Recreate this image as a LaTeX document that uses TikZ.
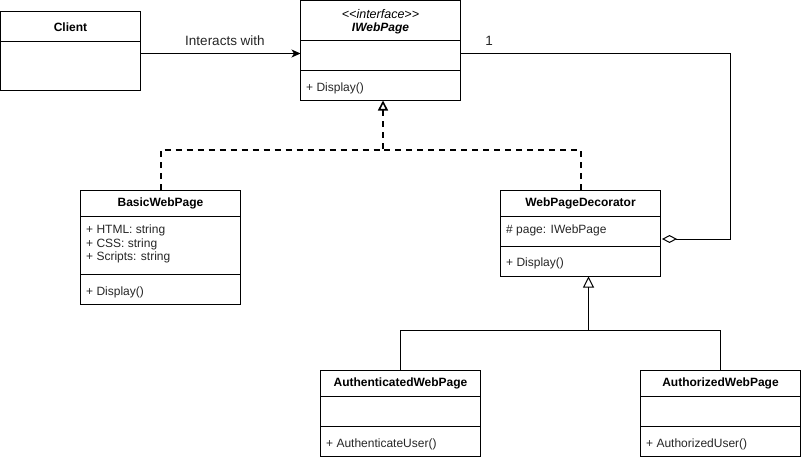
\documentclass[tikz,border=0pt]{standalone}
\usepackage{fontspec}
\setmainfont{Liberation Sans}
\usetikzlibrary{arrows.meta,calc}
\begin{document}
\begin{tikzpicture}[x=1pt,y=-1pt,
  box/.style={draw, line width=1pt, inner sep=0pt, outer sep=0pt, anchor=north west, minimum width=160pt},
  cname/.style={font=\fontsize{12}{14}\selectfont\bfseries, inner sep=0pt, anchor=center},
  member/.style={font=\fontsize{12}{14}\selectfont, inner sep=0pt, anchor=west, text=black!85},
  divider/.style={line width=1pt},
  lbl/.style={font=\fontsize{13.5}{16}\selectfont, inner sep=0pt, text=black!85},
  realize/.style={line width=2pt, dash pattern=on 6pt off 5pt, -{Triangle[open, length=10pt, width=10pt, line width=1.6pt]}},
  general/.style={line width=1pt},
  assoc/.style={line width=1pt, -{Stealth[length=9pt, width=8pt, inset=2.5pt]}},
  aggr/.style={line width=1pt, -{Diamond[open, length=15pt, width=8pt]}}
]
\useasboundingbox (0,0) rectangle (801,460);

% Client
\node[box, minimum width=140pt, minimum height=79pt] (client) at (0.5,12) {};
\draw[divider] ($(client.north west)+(0,29.5)$) -- ++(140,0);
\node[cname] (clientname) at ($(client.north)+(0,15)$) {Client};

% IWebPage
\node[box, minimum height=99.5pt] (iweb) at (300.5,1) {};
\draw[divider] ($(iweb.north west)+(0,39.5)$) -- ++(160,0);
\draw[divider] ($(iweb.north west)+(0,69.5)$) -- ++(160,0);
\node[font=\fontsize{12.5}{14}\selectfont\itshape, inner sep=0pt] (istereo) at ($(iweb.north)+(0,13)$) {<{}<interface>{}>};
\node[font=\fontsize{12}{14}\selectfont\bfseries\itshape, inner sep=0pt] (iname) at ($(iweb.north)+(0,27)$) {IWebPage};
\node[member] (imeth) at ($(iweb.north west)+(5.5,87)$) {+ Display()};

% BasicWebPage
\node[box, minimum height=114pt] (basic) at (80.5,190) {};
\draw[divider] ($(basic.north west)+(0,26)$) -- ++(160,0);
\draw[divider] ($(basic.north west)+(0,84)$) -- ++(160,0);
\node[cname] (basicname) at ($(basic.north)+(0,13)$) {BasicWebPage};
\node[member] (b1) at ($(basic.north west)+(5.5,40)$) {+ HTML: string};
\node[member] (b2) at ($(basic.north west)+(5.5,54)$) {+ CSS: string};
\node[member] (b3) at ($(basic.north west)+(5.5,67.5)$) {+ Scripts: string};
\node[member] (b4) at ($(basic.north west)+(5.5,102)$) {+ Display()};

% WebPageDecorator
\node[box, minimum height=86.5pt] (deco) at (500.5,190) {};
\draw[divider] ($(deco.north west)+(0,26.5)$) -- ++(160,0);
\draw[divider] ($(deco.north west)+(0,56)$) -- ++(160,0);
\node[cname] (deconame) at ($(deco.north)+(0,13)$) {WebPageDecorator};
\node[member] (d1) at ($(deco.north west)+(5.5,40)$) {\# page: IWebPage};
\node[member] (d2) at ($(deco.north west)+(5.5,73.5)$) {+ Display()};

% AuthenticatedWebPage
\node[box, minimum height=86pt] (auth) at (320.5,370) {};
\draw[divider] ($(auth.north west)+(0,26)$) -- ++(160,0);
\draw[divider] ($(auth.north west)+(0,56)$) -- ++(160,0);
\node[cname] (authname) at ($(auth.north)+(0,13.5)$) {AuthenticatedWebPage};
\node[member] (a1) at ($(auth.north west)+(5.5,74)$) {+ AuthenticateUser()};

% AuthorizedWebPage
\node[box, minimum height=86pt] (authz) at (640.5,370) {};
\draw[divider] ($(authz.north west)+(0,26)$) -- ++(160,0);
\draw[divider] ($(authz.north west)+(0,56)$) -- ++(160,0);
\node[cname] (authzname) at ($(authz.north)+(0,13.5)$) {AuthorizedWebPage};
\node[member] (z1) at ($(authz.north west)+(5.5,74)$) {+ AuthorizedUser()};

% Client -> IWebPage
\coordinate (cy) at (0,53.5);
\draw[assoc] (client.east |- cy) -- (iweb.west |- cy);
\node[lbl] (interacts) at (225,41) {Interacts with};

% Realization
\coordinate (rj) at (383,150);
\draw[realize] (basic.north) |- (rj) -- (rj |- iweb.south);
\draw[line width=2pt, dash pattern=on 6pt off 5pt] (deco.north) |- (rj);

% Generalization
\coordinate (gj) at (588.5,330);
\draw[general, -{Triangle[open, length=11pt, width=11pt]}] (auth.north) |- (gj) -- (gj |- deco.south);
\draw[general] (authz.north) |- (gj);

% Aggregation
\coordinate (ay) at (0,53.5);
\coordinate (ac) at (730,239);
\draw[aggr] (iweb.east |- ay) -| (ac) -- ($(deco.east |- ac)+(1.5,0)$);
\node[lbl] (mult) at (489,41) {1};

\end{tikzpicture}
\end{document}
